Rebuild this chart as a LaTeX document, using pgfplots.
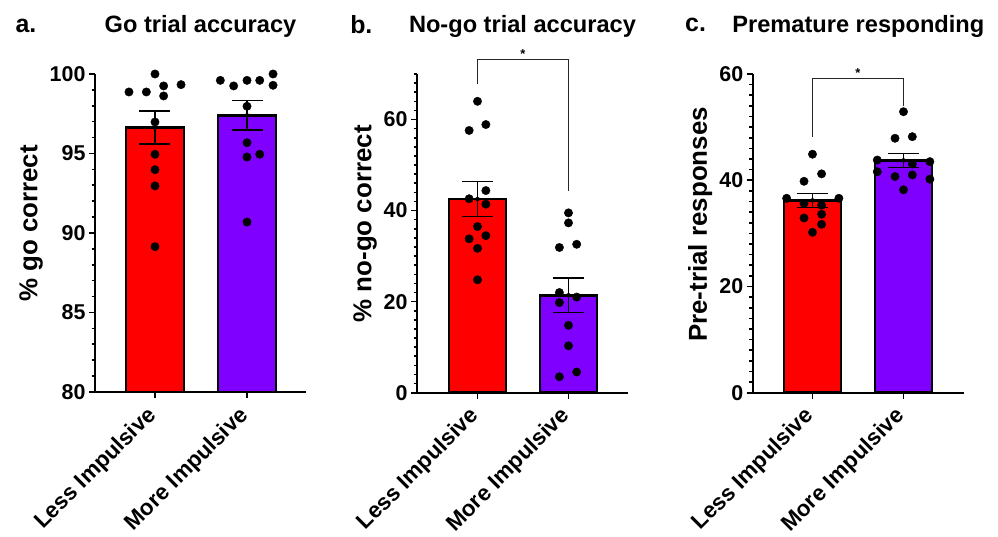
\documentclass[border=0pt]{standalone}
\usepackage{fontspec}
\setmainfont{Liberation Sans}
\usepackage{pgfplots}
\pgfplotsset{compat=1.18}
\definecolor{barred}{RGB}{255,0,0}
\definecolor{barpurple}{RGB}{128,0,255}
\tikzset{
  letter/.style={anchor=base west, font=\fontsize{25}{25}\selectfont\bfseries},
  star/.style={anchor=base, font=\fontsize{13}{13}\selectfont\bfseries, yshift=0.5bp},
}
\pgfplotsset{
  gp/.style={
    scale only axis, width=211bp, height=318bp, anchor=south west,
    axis lines=left, axis line style={-, line width=2bp, black},
    tick align=outside, major tick length=6bp, minor tick length=3.5bp,
    tick style={line width=1.6bp, black},
    /pgf/number format/assume math mode=true,
    yticklabel style={font=\fontsize{21.5}{21.5}\selectfont\bfseries},
    xtick={0,1}, xticklabels={Less Impulsive, More Impulsive},
    xticklabel style={font=\fontsize{22.5}{22.5}\selectfont\bfseries, yshift=-14bp, xshift=-2bp, rotate=45, anchor=east, inner sep=0pt},
    title style={font=\fontsize{23.7}{24}\selectfont\bfseries, anchor=base, at={(axis description cs:0.5,1.113)}},
    ylabel style={font=\fontsize{26}{26}\selectfont\bfseries, anchor=center},
    enlargelimits=false,
  },
  barstyle/.style={ybar, bar shift=0pt, bar width=0.63, draw=black, line width=2.6bp},
  ebar/.style={black, only marks, mark=none, forget plot,
    error bars/.cd, y dir=both, y explicit,
    error bar style={line width=1.3bp, black},
    error mark options={rotate=90, mark size=15.5bp, line width=1.3bp, black}},
  dots/.style={only marks, mark=*, mark size=4.2bp, black, mark options={fill=black, draw=black}},
}
\begin{document}
\begin{tikzpicture}
\useasboundingbox (0,0) rectangle (998bp,537bp);

% ---------- panel a ----------
\begin{axis}[gp, at={(95bp,145bp)},
  xmin=-0.652, xmax=1.641, ymin=80, ymax=100,
  ytick={80,85,90,95,100}, minor ytick={80,81,...,100},
  clip mode=individual,
  title={Go trial accuracy},
  ylabel={\% go correct},
  ylabel style={at={(axis description cs:-0.303,0.53)}}]
\addplot[barstyle, fill=barred] coordinates {(0,96.63)};
\addplot[barstyle, fill=barpurple] coordinates {(1,97.40)};
\addplot[ebar] coordinates {(0,96.63) +- (0,1.04) (1,97.40) +- (0,0.92)};
\addplot[dots] coordinates {
(-0.283,98.87) (-0.094,98.87) (0,100) (0.094,99.25) (0.094,98.62) (0.283,99.33)
(0,96.98) (0,94.95) (0,93.98) (0,92.96) (0,89.14)};
\addplot[dots] coordinates {
(0.710,99.60) (0.855,99.25) (1,99.60) (1.138,99.60) (1.283,100) (1.283,99.29)
(1,97.97) (1,95.68) (1,94.78) (1.138,94.95) (1,90.69)};
\node[letter] at (rel axis cs:-0.393,1.129) {a.};
\end{axis}

% ---------- panel b ----------
\begin{axis}[gp, at={(417bp,144.3bp)}, height=318.7bp,
  xmin=-0.665, xmax=1.654, ymin=0, ymax=70,
  ytick={0,20,40,60}, minor ytick={0,2,...,70},
  clip=false,
  title={No-go trial accuracy},
  ylabel={\% no-go correct},
  ylabel style={at={(axis description cs:-0.246,0.53)}}]
\addplot[barstyle, fill=barred] coordinates {(0,42.55)};
\addplot[barstyle, fill=barpurple] coordinates {(1,21.40)};
\addplot[ebar] coordinates {(0,42.55) +- (0,3.8) (1,21.40) +- (0,3.8)};
\addplot[dots] coordinates {
(0,64.0) (-0.092,57.6) (0.092,58.9) (0.092,44.4) (-0.092,42.6) (0.092,41.4)
(0,36.5) (-0.092,33.8) (0.092,34.5) (0,31.7) (0,24.8)};
\addplot[dots] coordinates {
(1,39.5) (1,37.3) (0.90,31.9) (1.09,32.6) (0.90,22.0) (0.90,19.8)
(1.09,21.0) (1,14.8) (1,10.3) (0.90,3.5) (1.09,4.55)};
\addplot[black!85, line width=1.2bp] coordinates {(0,67.9) (0,73.2) (1,73.2) (1,44.2)};
\node[star] at (axis cs:0.5,73.2) {*};
\node[letter] at (rel axis cs:-0.333,1.128) {b.};
\end{axis}

% ---------- panel c ----------
\begin{axis}[gp, at={(752.7bp,144.3bp)}, width=211.3bp, height=318.7bp,
  xmin=-0.657, xmax=1.665, ymin=0, ymax=60,
  ytick={0,20,40,60}, minor ytick={0,2,...,60},
  clip=false,
  title={Premature responding},
  ylabel={Pre-trial responses},
  ylabel style={at={(axis description cs:-0.249,0.528)}}]
\addplot[barstyle, fill=barred] coordinates {(0,36.20)};
\addplot[barstyle, fill=barpurple] coordinates {(1,43.73)};
\addplot[ebar] coordinates {(0,36.20) +- (0,1.3) (1,43.73) +- (0,1.35)};
\addplot[dots] coordinates {
(0,44.9) (0.1,41.2) (-0.093,39.8) (-0.284,36.6) (0.29,36.6) (-0.093,35.65)
(0.1,35.3) (-0.093,32.9) (0.1,33.6) (0.1,31.7) (0,30.2)};
\addplot[dots] coordinates {
(1,52.9) (0.907,47.9) (1.097,48.2) (0.712,43.8) (1.29,43.5) (1.097,43.05)
(0.712,41.6) (0.907,40.7) (1.097,41.0) (1.29,40.2) (1,38.2)};
\addplot[black!85, line width=1.2bp] coordinates {(0,48.2) (0,59.2) (1,59.2) (1,54.0)};
\node[star] at (axis cs:0.5,59.2) {*};
\node[letter] at (rel axis cs:-0.336,1.133) {c.};
\end{axis}
\end{tikzpicture}
\end{document}
